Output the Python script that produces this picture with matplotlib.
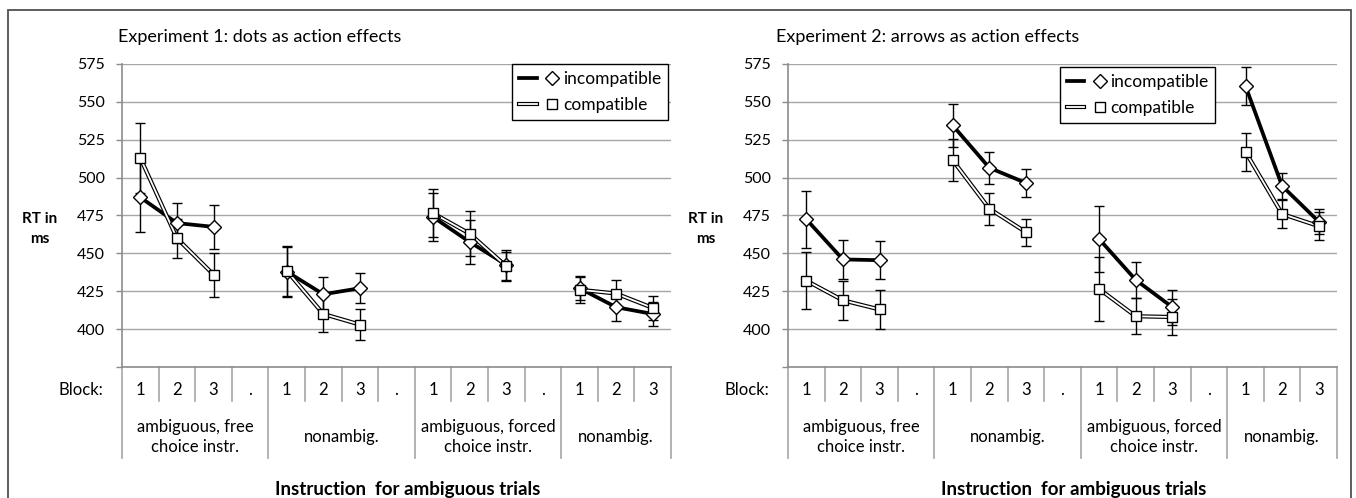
import numpy as np
import matplotlib
matplotlib.use("Agg")
import matplotlib.pyplot as plt
import matplotlib.patheffects as pe
from matplotlib.lines import Line2D
from matplotlib.legend_handler import HandlerTuple

plt.rcParams['font.family'] = ['Lato', 'DejaVu Sans']

nan = np.nan

# category axis: block numbers, '.' is an empty spacer column
BLOCKS = ['1', '2', '3', '.', '1', '2', '3', '.', '1', '2', '3', '.', '1', '2', '3']
GROUPS = ['ambiguous, free\nchoice instr.', 'nonambig.', 'ambiguous, forced\nchoice instr.', 'nonambig.']
GROUP_SPAN = [(0, 4), (4, 8), (8, 12), (12, 15)]

TITLES = ['Experiment 1: dots as action effects', 'Experiment 2: arrows as action effects']

# Experiment 1
exp1_incomp = [487, 470, 467.5, nan, 438, 423, 427, nan, 474, 457.5, 442.5, nan, 427, 414.5, 410]
exp1_incomp_err = [23, 13, 14.5, nan, 16.5, 11.5, 10, nan, 16, 14.5, 10, nan, 8, 9, 8]
exp1_comp = [513, 460, 436, nan, 438.5, 410, 403, nan, 476.5, 463, 441.5, nan, 426, 423.5, 414]
exp1_comp_err = [23, 13, 14.5, nan, 16.5, 12, 10, nan, 16, 15, 9.5, nan, 8.5, 9, 8]

# Experiment 2
exp2_incomp = [472.5, 446, 445.5, nan, 534.5, 506.5, 496.5, nan, 459.5, 432.5, 414.5, nan, 560.5, 494.5, 471]
exp2_incomp_err = [19, 13, 12.5, nan, 14, 10.5, 9, nan, 21.5, 12, 11.5, nan, 12.5, 8.5, 8.5]
exp2_comp = [432, 419, 413, nan, 511.5, 479.5, 464, nan, 426.5, 408.5, 408, nan, 517, 476, 468]
exp2_comp_err = [19, 13, 13, nan, 14, 10.5, 9, nan, 21, 12, 12, nan, 12.5, 9, 9]

W, H = 1356, 498
fig = plt.figure(figsize=(W / 100, H / 100), dpi=100)

GRID = '#a6a6a6'
AXC = '#8c8c8c'


def px_axes(left, top, width, height):
    return fig.add_axes([left / W, 1 - (top + height) / H, width / W, height / H])


def draw_panel(ax, incomp, incomp_err, comp, comp_err, title, legend_anchor, ylab_x, title_x):
    x = np.arange(len(BLOCKS))
    incomp = np.array(incomp, dtype=float)
    comp = np.array(comp, dtype=float)

    ax.set_xlim(-0.5, len(BLOCKS) - 0.5)
    ax.set_ylim(375, 575)
    ax.set_yticks(np.arange(375, 576, 25))
    ax.set_yticklabels([''] + [str(v) for v in range(400, 576, 25)])
    ax.set_xticks([])
    ax.yaxis.grid(True, color=GRID, lw=1.0)
    ax.set_axisbelow(True)
    for s in ['top', 'right']:
        ax.spines[s].set_visible(False)
    ax.spines['left'].set_color(AXC)
    ax.spines['bottom'].set_color(AXC)
    ax.spines['left'].set_linewidth(1.2)
    ax.spines['bottom'].set_linewidth(1.2)
    ax.tick_params(axis='y', direction='out', length=4.5, width=1, color=AXC,
                   labelsize=11.5, pad=8)

    # incompatible: thick black line, white diamonds
    ax.plot(x, incomp, color='black', lw=2.7, zorder=3)
    ax.errorbar(x, incomp, yerr=incomp_err, fmt='none', ecolor='black',
                elinewidth=1.0, capsize=3.6, capthick=1.0, zorder=4)
    ax.plot(x, incomp, ls='none', marker='D', ms=7.2, mfc='white', mec='black',
            mew=1.0, zorder=5)

    # compatible: double line (white core, black outline), white squares
    ax.plot(x, comp, color='white', lw=1.3, zorder=3,
            path_effects=[pe.Stroke(linewidth=3.0, foreground='black'), pe.Normal()])
    ax.errorbar(x, comp, yerr=comp_err, fmt='none', ecolor='black',
                elinewidth=1.0, capsize=3.6, capthick=1.0, zorder=4)
    ax.plot(x, comp, ls='none', marker='s', ms=7.2, mfc='white', mec='black',
            mew=1.0, zorder=5)

    # category table under the axis
    tr = ax.get_xaxis_transform()
    for k in range(len(BLOCKS) + 1):
        bottom = -0.112
        if any(k == a or k == b for a, b in GROUP_SPAN):
            bottom = -0.30
        ax.plot([k - 0.5, k - 0.5], [0, bottom], transform=tr, color=GRID,
                lw=1.2, clip_on=False)
    for k, b in enumerate(BLOCKS):
        ax.text(k, -0.075, b, transform=tr, ha='center', va='center', fontsize=12)
    for g, (a, b) in zip(GROUPS, GROUP_SPAN):
        ax.text((a + b - 1) / 2, -0.23, g, transform=tr, ha='center', va='center',
                fontsize=12, linespacing=1.3)
    ax.text(-1.0, -0.075, 'Block:', transform=tr, ha='right', va='center', fontsize=12)
    ax.text(0.52, -0.405, 'Instruction  for ambiguous trials', transform=ax.transAxes,
            ha='center', va='center', fontsize=13.5, fontweight='bold')

    fig.text(ylab_x / W, 1 - 229 / H, 'RT in\nms', ha='center', va='center',
             fontsize=11, fontweight='bold', linespacing=1.55)
    fig.text(title_x / W, 1 - 37 / H, title, ha='left', va='center', fontsize=13)

    h_inc = (Line2D([], [], color='black', lw=2.7),
             Line2D([], [], ls='none', marker='D', ms=7.2, mfc='white', mec='black'))
    h_comp = (Line2D([], [], color='white', lw=1.3,
                     path_effects=[pe.Stroke(linewidth=3.0, foreground='black'), pe.Normal()]),
              Line2D([], [], ls='none', marker='s', ms=7.2, mfc='white', mec='black'))
    leg = ax.legend([h_inc, h_comp], ['incompatible', 'compatible'],
                    handler_map={tuple: HandlerTuple(ndivide=None)},
                    loc='upper right', bbox_to_anchor=legend_anchor, borderaxespad=0,
                    fontsize=12.5, handlelength=2.4, handletextpad=0.1, labelspacing=0.6,
                    borderpad=0.4, fancybox=False, framealpha=1, edgecolor='black')
    leg.get_frame().set_linewidth(1.0)


ax1 = px_axes(122, 64, 549, 303)
draw_panel(ax1, exp1_incomp, exp1_incomp_err, exp1_comp, exp1_comp_err, TITLES[0],
           (0.9945, 1.0), 40, 118)

ax2 = px_axes(788, 64, 549, 303)
draw_panel(ax2, exp2_incomp, exp2_incomp_err, exp2_comp, exp2_comp_err, TITLES[1],
           (0.778, 0.99), 706, 776)

# outer frame around the whole picture
fig.add_artist(plt.Rectangle((8 / W, -0.02), (1351 - 8) / W, 1 - 10 / H + 0.02,
                             transform=fig.transFigure, fill=False,
                             edgecolor='#505050', lw=1.3))

fig.savefig('out.png', dpi=100)
